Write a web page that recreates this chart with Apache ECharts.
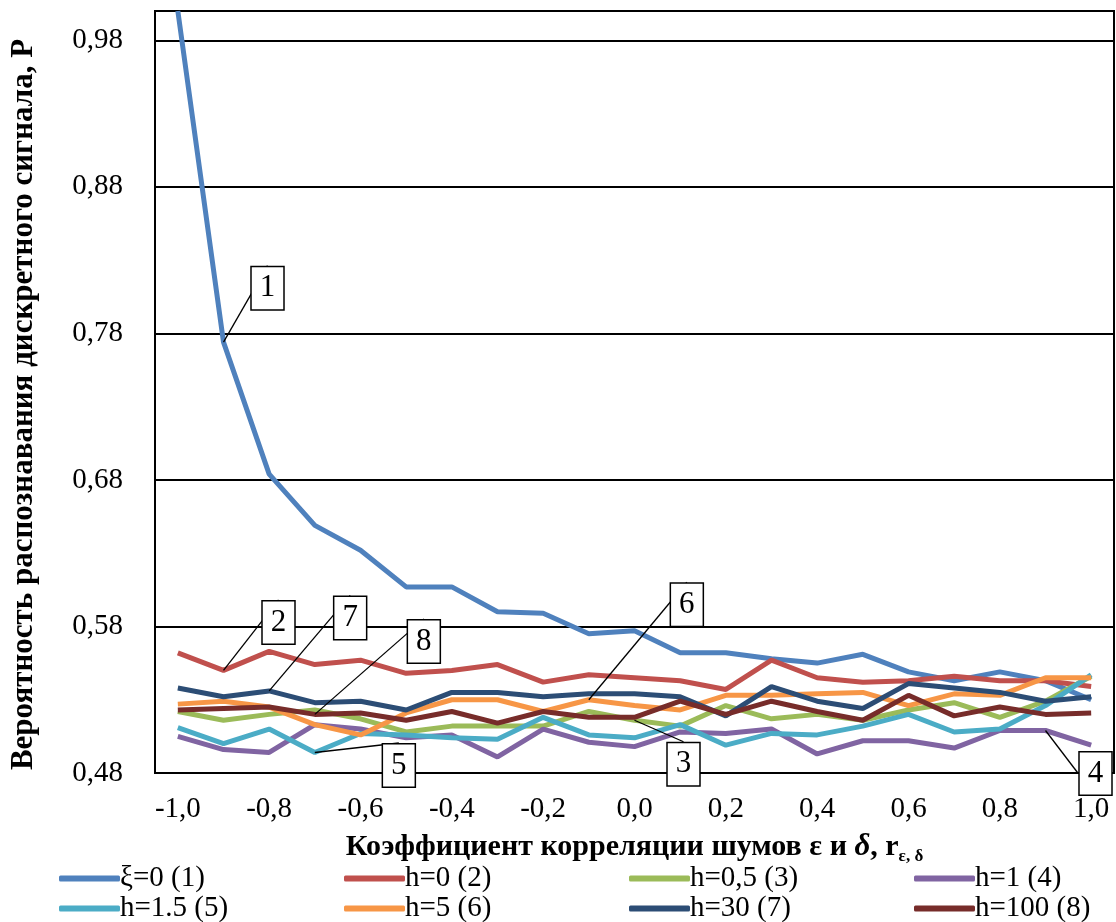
<!DOCTYPE html>
<html>
<head>
<meta charset="utf-8">
<script src="https://cdn.jsdelivr.net/npm/echarts@6/dist/echarts.min.js"></script>
<style>
  html, body { margin: 0; padding: 0; background: #fff; }
  #main { width: 1116px; height: 922px; }
</style>
</head>
<body>
<div id="main"></div>
<script>
// коэффициент корреляции r
var categories = ['-1,0', '-0,9', '-0,8', '-0,7', '-0,6', '-0,5', '-0,4', '-0,3', '-0,2', '-0,1', '0,0',
  '0,1', '0,2', '0,3', '0,4', '0,5', '0,6', '0,7', '0,8', '0,9', '1,0'];

var xi0 = [1.0, 0.774, 0.684, 0.649, 0.632, 0.607, 0.607, 0.590, 0.589, 0.575, 0.577,
  0.562, 0.562, 0.558, 0.555, 0.561, 0.549, 0.543, 0.549, 0.543, 0.530];
var h0 = [0.562, 0.550, 0.563, 0.554, 0.557, 0.548, 0.550, 0.554, 0.542, 0.547, 0.545,
  0.543, 0.537, 0.557, 0.545, 0.542, 0.543, 0.546, 0.543, 0.543, 0.539];
var h05 = [0.522, 0.516, 0.520, 0.523, 0.517, 0.508, 0.512, 0.512, 0.512, 0.522, 0.516,
  0.512, 0.526, 0.517, 0.520, 0.516, 0.523, 0.528, 0.518, 0.529, 0.546];
var h1 = [0.505, 0.496, 0.494, 0.513, 0.510, 0.504, 0.506, 0.491, 0.510, 0.501, 0.498,
  0.508, 0.507, 0.510, 0.493, 0.502, 0.502, 0.497, 0.509, 0.509, 0.499];
var h15 = [0.511, 0.500, 0.510, 0.494, 0.507, 0.506, 0.504, 0.503, 0.518, 0.506, 0.504,
  0.513, 0.499, 0.507, 0.506, 0.512, 0.520, 0.508, 0.510, 0.526, 0.547];
var h5 = [0.527, 0.529, 0.525, 0.513, 0.506, 0.521, 0.530, 0.530, 0.522, 0.530, 0.526,
  0.523, 0.533, 0.533, 0.534, 0.535, 0.526, 0.534, 0.533, 0.545, 0.545];
var h30 = [0.538, 0.532, 0.536, 0.528, 0.529, 0.523, 0.535, 0.535, 0.532, 0.534, 0.534,
  0.532, 0.519, 0.539, 0.529, 0.524, 0.541, 0.538, 0.535, 0.529, 0.532];
var h100 = [0.523, 0.524, 0.525, 0.520, 0.521, 0.516, 0.522, 0.514, 0.522, 0.518, 0.518,
  0.529, 0.520, 0.529, 0.522, 0.516, 0.533, 0.519, 0.525, 0.520, 0.521];

var names = ['ξ=0 (1)', 'h=0 (2)', 'h=0,5 (3)', 'h=1 (4)', 'h=1.5 (5)', 'h=5 (6)', 'h=30 (7)', 'h=100 (8)'];
var colors = ['#4F81BD', '#C0504D', '#9BBB59', '#8064A2', '#4BACC6', '#F79646', '#2C4D75', '#772C2A'];
var allData = [xi0, h0, h05, h1, h15, h5, h30, h100];

// номер на выноске: [индекс точки, dx, dy]
var tags = [
  [1, 44, -54],
  [1, 55, -48],
  [10, 49, 44],
  [19, 50, 43],
  [3, 84, 13],
  [9, 98, -95],
  [2, 81, -73],
  [3, 109, -73]
];

var serif = 'Liberation Serif, Times New Roman, serif';

function makeSeries(i) {
  var t = tags[i];
  var d = allData[i].map(function (v, k) {
    if (k === t[0]) {
      return { value: v, label: { show: true, formatter: String(i + 1) }, labelLine: { show: true } };
    }
    return v;
  });
  return {
    name: names[i],
    type: 'line',
    data: d,
    symbol: 'circle',
    symbolSize: 0,
    showSymbol: true,
    lineStyle: { width: 5, color: colors[i] },
    itemStyle: { color: colors[i] },
    label: {
      show: false,
      position: 'inside',
      color: '#000',
      fontFamily: serif,
      fontSize: 31,
      backgroundColor: '#fff',
      borderColor: '#000',
      borderWidth: 1.5,
      padding: [7, 8, 4, 8]
    },
    labelLine: { show: true, lineStyle: { color: '#000', width: 1.3 } },
    labelLayout: { dx: t[1], dy: t[2] },
    emphasis: { disabled: true },
    z: 2
  };
}

// легенда: 4 колонки x 2 строки
var legends = [];
for (var k = 0; k < 8; k++) {
  legends.push({
    left: 59 + (k % 4) * 285,
    top: k < 4 ? 864 : 894,
    padding: 0,
    itemWidth: 61,
    itemHeight: 6,
    icon: 'roundRect',
    data: [names[k]],
    textStyle: { fontFamily: serif, fontSize: 29, color: '#000', padding: [0, 0, 0, -5] }
  });
}

var dom = document.getElementById('main');
var myChart = echarts.init(dom);
var option = {
  animation: false,
  backgroundColor: '#fff',
  legend: legends,
  grid: {
    left: 149, right: 2, top: 11, bottom: 149,
    show: true, borderColor: '#000', borderWidth: 2
  },
  xAxis: {
    type: 'category',
    data: categories,
    boundaryGap: true,
    axisLine: { lineStyle: { color: '#000', width: 2 } },
    axisTick: { inside: true, length: 8, interval: 0, lineStyle: { color: '#000', width: 2 } },
    axisLabel: { interval: 1, margin: 22, fontFamily: serif, fontSize: 29, color: '#000' },
    name: '{a|Коэффициент корреляции шумов ε и }{d|δ}{a|, r}{s|ε, δ}',
    nameLocation: 'middle',
    nameGap: 56,
    nameTextStyle: {
      rich: {
        a: { fontFamily: serif, fontSize: 30, fontWeight: 'bold', color: '#000', lineHeight: 36, verticalAlign: 'middle' },
        d: { fontFamily: serif, fontSize: 31, fontWeight: 'bold', fontStyle: 'italic', color: '#000', lineHeight: 36, verticalAlign: 'middle' },
        s: { fontFamily: serif, fontSize: 17, fontWeight: 'bold', color: '#000', lineHeight: 15, verticalAlign: 'bottom' }
      }
    }
  },
  yAxis: {
    type: 'value',
    min: 0.48,
    max: 1.0,
    interval: 0.1,
    axisLine: { show: true, lineStyle: { color: '#000', width: 2 } },
    axisTick: { show: false },
    splitLine: { lineStyle: { color: '#000', width: 2 } },
    axisLabel: {
      margin: 32,
      fontFamily: serif,
      fontSize: 29,
      color: '#000',
      showMaxLabel: false,
      formatter: function (v) { return v.toFixed(2).replace('.', ','); }
    },
    name: 'Вероятность распознавания дискретного сигнала, Р',
    nameLocation: 'middle',
    nameGap: 116,
    nameTextStyle: { fontFamily: serif, fontSize: 31, fontWeight: 'bold', color: '#000', padding: [0, 25, 0, 0] }
  },
  series: [0, 1, 2, 3, 4, 5, 6, 7].map(makeSeries)
};
myChart.setOption(option);
window.onresize = function () {
  myChart.resize();
};
</script>
</body>
</html>
